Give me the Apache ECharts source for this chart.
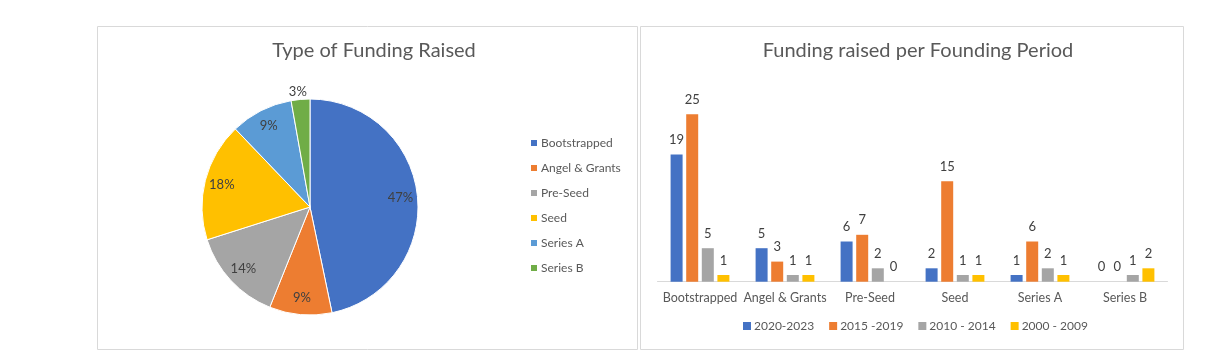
<!DOCTYPE html>
<html>
<head>
<meta charset="utf-8">
<script src="https://cdn.jsdelivr.net/npm/echarts@6/dist/echarts.min.js"></script>
<style>
html,body{margin:0;padding:0;background:#fff;}
#c{width:1222px;height:362px;}
</style>
</head>
<body>
<div id="c"></div>
<script>
// ---- data ----
var fundingTypes = ['Bootstrapped', 'Angel & Grants', 'Pre-Seed', 'Seed', 'Series A', 'Series B'];
var fundingTotals = [50, 10, 15, 19, 10, 3];
var periods = ['2020-2023', '2015 -2019', '2010 - 2014', '2000 - 2009'];
var s2020_2023 = [19, 5, 6, 2, 1, 0];
var s2015_2019 = [25, 3, 7, 15, 6, 0];
var s2010_2014 = [5, 1, 2, 1, 2, 1];
var s2000_2009 = [1, 1, 0, 1, 1, 2];
var pieTitle = 'Type of Funding Raised';
var barTitle = 'Funding raised per Founding Period';

var pieColors = ['#4472C4', '#ED7D31', '#A5A5A5', '#FFC000', '#5B9BD5', '#70AD47'];
var barColors = ['#4472C4', '#ED7D31', '#A5A5A5', '#FFC000'];
var FONT = 'Lato, "Open Sans", sans-serif';

var chart = echarts.init(document.getElementById('c'), null, {renderer: 'canvas'});

var total = fundingTotals.reduce(function(a, b){ return a + b; }, 0);
var pieData = fundingTypes.map(function(n, i){ return {name: n, value: fundingTotals[i]}; });
var pieLabelData = fundingTypes.map(function(n, i){
  var d = {name: n, value: fundingTotals[i]};
  if (i === fundingTypes.length - 1) {
    d.label = {position: 'outside'};
    d.labelLine = {show: false, length: 8, length2: 0};
  }
  return d;
});

var barSeriesData = [s2020_2023, s2015_2019, s2010_2014, s2000_2009];
var barSeries = periods.map(function(p, i){
  return {
    name: p, type: 'bar', xAxisIndex: 0, yAxisIndex: 0,
    data: barSeriesData[i],
    barWidth: 12, barGap: '30%',
    itemStyle: {color: barColors[i]},
    label: {show: true, position: 'top', distance: 8, color: '#404040', fontSize: 13, fontFamily: FONT},
    animation: false
  };
});

var option = {
  animation: false,
  textStyle: {fontFamily: FONT},
  graphic: [
    {type: 'rect', shape: {x: 97.5, y: 26.5, width: 540, height: 323}, style: {fill: 'none', stroke: '#d9d9d9', lineWidth: 1}, silent: true},
    {type: 'rect', shape: {x: 640.5, y: 26.5, width: 543, height: 323}, style: {fill: 'none', stroke: '#d9d9d9', lineWidth: 1}, silent: true}
  ],
  title: [
    {text: pieTitle, left: 369, top: 36, textAlign: 'center',
     textStyle: {fontFamily: FONT, fontSize: 20, fontWeight: 'normal', color: '#595959'}},
    {text: barTitle, left: 913, top: 36, textAlign: 'center',
     textStyle: {fontFamily: FONT, fontSize: 20, fontWeight: 'normal', color: '#595959'}}
  ],
  legend: [
    {
      data: fundingTypes, orient: 'vertical', left: 529, top: 136, padding: 0,
      itemWidth: 8, itemHeight: 8, itemGap: 11, icon: 'rect',
      textStyle: {fontFamily: FONT, fontSize: 12, color: '#595959', lineHeight: 14, padding: [0, 0, 0, -2]},
      selectedMode: false
    },
    {
      data: periods, orient: 'horizontal', left: 743, top: 319, padding: 0,
      itemWidth: 8, itemHeight: 8, itemGap: 15, icon: 'rect',
      textStyle: {fontFamily: FONT, fontSize: 12, color: '#595959', lineHeight: 14, padding: [0, 0, 0, -2]},
      selectedMode: false
    }
  ],
  grid: {left: 657.5, right: 54.5, top: 80.7, bottom: 80.3, containLabel: false},
  xAxis: {
    type: 'category', data: fundingTypes,
    axisLine: {lineStyle: {color: '#d9d9d9', width: 1}},
    axisTick: {show: false},
    axisLabel: {color: '#595959', fontSize: 12.5, fontFamily: FONT, margin: 10, interval: 0}
  },
  yAxis: {
    type: 'value', min: 0, max: 30, show: false, splitLine: {show: false}
  },
  series: [
    {
      name: 'funding', type: 'pie', center: [310, 207], radius: 108,
      startAngle: 90, clockwise: true,
      data: pieData,
      color: pieColors,
      itemStyle: {borderColor: '#ffffff', borderWidth: 1},
      label: {show: false}, labelLine: {show: false},
      silent: true
    },
    {
      name: 'fundingLabels', type: 'pie', center: [310, 207], radius: [68, 108],
      startAngle: 90, clockwise: true,
      data: pieLabelData,
      itemStyle: {color: 'rgba(0,0,0,0)'},
      label: {
        show: true, position: 'inside', color: '#404040', fontSize: 13, fontFamily: FONT,
        formatter: function(p){ return Math.round(p.value / total * 100) + '%'; }
      },
      labelLine: {show: false},
      labelLayout: function(p){ return p.dataIndex === fundingTypes.length - 1 ? {dx: 12} : {}; },
      silent: true
    }
  ].concat(barSeries)
};
chart.setOption(option);
</script>
</body>
</html>
